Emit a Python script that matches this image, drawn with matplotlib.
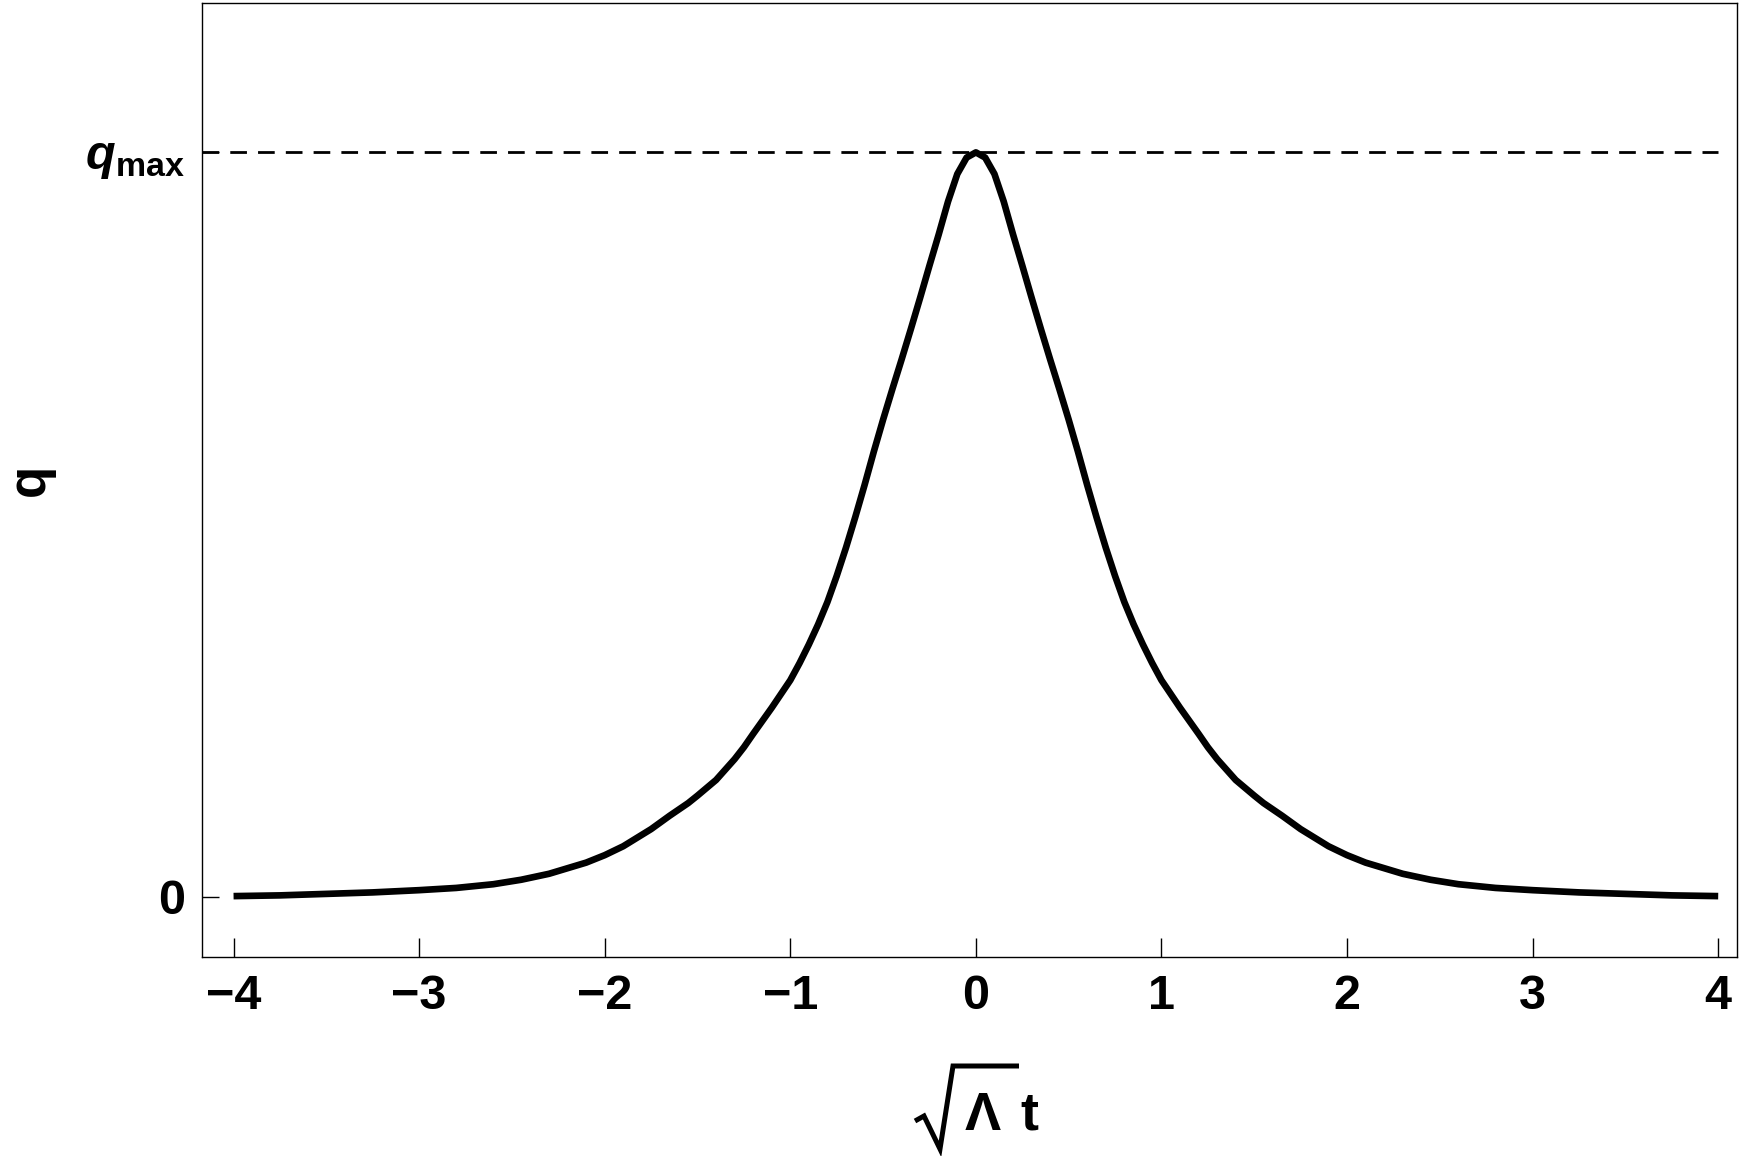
import numpy as np
import matplotlib
matplotlib.use('Agg')
import matplotlib.pyplot as plt
from matplotlib.lines import Line2D

# left half of the curve (q in units of q_max)
t_left = [-4.0, -3.75, -3.5, -3.25, -3.0, -2.8, -2.6, -2.45, -2.3, -2.1, -2.0, -1.9, -1.75, -1.65,
          -1.55, -1.5, -1.4, -1.3, -1.25, -1.2, -1.1, -1.0, -0.95, -0.9, -0.85, -0.8, -0.75,
          -0.7, -0.65, -0.6, -0.55, -0.5, -0.45, -0.4, -0.35, -0.3, -0.25, -0.2, -0.15,
          -0.1, -0.05, 0.0]
q_left = [0.001, 0.002, 0.004, 0.006, 0.009, 0.012, 0.017, 0.023, 0.031, 0.046, 0.056, 0.068, 0.091, 0.109,
          0.126, 0.136, 0.157, 0.185, 0.201, 0.219, 0.254, 0.291, 0.314, 0.339, 0.366, 0.396, 0.431,
          0.469, 0.510, 0.553, 0.598, 0.641, 0.682, 0.722, 0.763, 0.805, 0.848, 0.890, 0.934,
          0.971, 0.993, 1.0]
# the reference curve is symmetric about t = 0
t_vals = t_left + [-v for v in t_left[-2::-1]]
q_vals = q_left + q_left[-2::-1]

q_max = 1.0
x_ticks = [-4, -3, -2, -1, 0, 1, 2, 3, 4]
x_ticklabels = ['\u22124', '\u22123', '\u22122', '\u22121', '0', '1', '2', '3', '4']
y_ticks = [0, q_max]
y_ticklabels = ['0', r'$\mathbfit{q}_{\mathbf{max}}$']

plt.rcParams['font.family'] = ['Liberation Sans', 'DejaVu Sans']
plt.rcParams['font.weight'] = 'bold'
plt.rcParams['mathtext.fontset'] = 'custom'
plt.rcParams['mathtext.rm'] = 'Liberation Sans:bold'
plt.rcParams['mathtext.bf'] = 'Liberation Sans:bold'
plt.rcParams['mathtext.it'] = 'Liberation Sans:bold:italic'
plt.rcParams['mathtext.bfit'] = 'Liberation Sans:bold:italic'

W, H = 1749, 1156
fig = plt.figure(figsize=(W / 100, H / 100), dpi=100)
ax = fig.add_axes([0.1155, 0.172, 0.8775, 0.825])

ax.plot(t_vals, q_vals, color='black', lw=4.8, solid_joinstyle='round', solid_capstyle='butt')
ax.hlines(q_max, -4.17, 4.0, colors='black', lw=2, linestyles=(0, (6, 4)))

ax.set_xlim(-4.17, 4.10)
ax.set_ylim(-0.081, 1.20)

ax.set_xticks(x_ticks)
ax.set_xticklabels(x_ticklabels, fontsize=35, fontweight='bold')
ax.set_yticks(y_ticks)
ax.set_yticklabels(y_ticklabels, fontsize=35, fontweight='bold')
ax.tick_params(axis='x', direction='in', length=14, width=1.0, pad=12)
ax.tick_params(axis='y', direction='in', length=12, width=1.0, pad=12)

for s in ax.spines.values():
    s.set_linewidth(1.0)

ax.set_ylabel('q', fontsize=38, fontweight='bold')
ax.yaxis.set_label_coords(-0.096, 0.5)

# x label: sqrt(Lambda) t, radical sign drawn by hand so it is bold like the reference
rad_x = [915, 924, 940, 953, 1019]
rad_y = [1121, 1116, 1149, 1066, 1066]
fig.add_artist(Line2D([x / W for x in rad_x], [1 - y / H for y in rad_y],
                      color='black', lw=3.6, solid_joinstyle='miter', solid_capstyle='butt'))
fig.text(965 / W, 1 - 1130 / H, '\u039b', fontsize=39, fontweight='bold', ha='left', va='baseline')
fig.text(1020 / W, 1 - 1130 / H, 't', fontsize=39, fontweight='bold', ha='left', va='baseline')

fig.savefig('out.png', dpi=100)
